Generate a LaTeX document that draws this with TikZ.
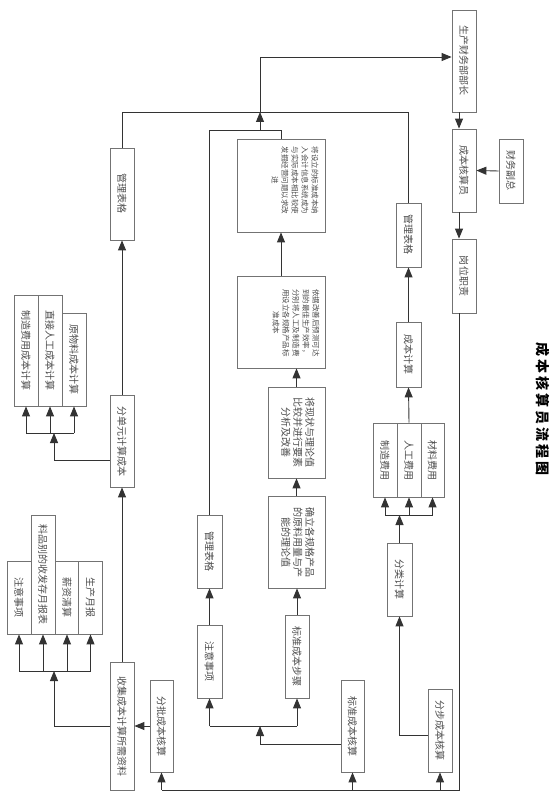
\documentclass[tikz,border=0pt]{standalone}
\usepackage{fontspec}
\usepackage{graphicx}
\setmainfont{Noto Sans CJK SC}
\usetikzlibrary{arrows.meta,calc}
\newcommand{\rt}[1]{\rotatebox{-90}{#1}}
\newcommand{\rtl}[1]{\rotatebox{-90}{\begin{tabular}{@{}c@{}}#1\end{tabular}}}
\tikzset{
  box/.style={draw=black!55, line width=0.8pt, inner sep=0pt, fill=white, text=black!70, font=\fontsize{10}{12}\selectfont},
  txt/.style={inner sep=0pt, text=black!70},
  ln/.style={draw=black!80, line width=0.9pt},
  arr/.style={draw=black!80, line width=0.9pt, -{Triangle[width=8pt,length=10pt]}}
}
\begin{document}
\begin{tikzpicture}[x=1pt,y=-1pt]
\useasboundingbox (0,0) rectangle (558,799);
\fill[white] (0,0) rectangle (558,799);

% title
\node[txt, text=black, font=\bfseries\fontsize{14}{14}\selectfont, rotate=-90] (title) at (543,409)
  {成\hspace{3pt}本\hspace{3pt}核\hspace{3pt}算\hspace{3pt}员\hspace{3pt}流\hspace{3pt}程\hspace{3pt}图};

% right column
\node[box, minimum width=24pt, minimum height=102pt] (p1) at (464,61) {\rt{生产财务部部长}};
\node[box, minimum width=24pt, minimum height=83pt] (p2) at (464,170.5) {\rt{成本核算员}};
\node[box, minimum width=24pt, minimum height=64pt] (p3) at (511,171) {\rt{财务副总}};
\node[box, minimum width=24pt, minimum height=74pt] (p4) at (464,276) {\rt{岗位职责}};

\node[box, minimum width=25pt, minimum height=64pt] (rm) at (408.5,235) {\rt{管理表格}};
\node[box, minimum width=25pt, minimum height=65pt] (rc) at (408.5,354.5) {\rt{成本计算}};
\node[box, minimum width=24pt, minimum height=74pt] (zz) at (385,460) {\rt{制造费用}};
\node[box, minimum width=24pt, minimum height=74pt] (rg) at (409,460) {\rt{人工费用}};
\node[box, minimum width=23pt, minimum height=74pt] (cl) at (432.5,460) {\rt{材料费用}};
\node[box, minimum width=25pt, minimum height=73pt] (fl) at (399.5,579.5) {\rt{分类计算}};
\node[box, minimum width=24pt, minimum height=83pt] (fb) at (440,730.5) {\rt{分步成本核算}};

% middle column
\node[box, minimum width=23pt, minimum height=92pt] (sc) at (352.5,726) {\rt{标准成本核算}};
\node[box, minimum width=24pt, minimum height=83pt] (ss) at (297,656.5) {\rt{标准成本步骤}};
\node[box, minimum width=25pt, minimum height=73pt] (mn) at (209.5,661.5) {\rt{注意事项}};
\node[box, minimum width=25pt, minimum height=73pt] (mm) at (209.5,551.5) {\rt{管理表格}};
\node[box, minimum width=57pt, minimum height=92pt] (b4) at (296.5,542)
  {\rtl{确立各规格产品\\的原料用量与产\\能的理论值}};
\node[box, minimum width=57pt, minimum height=91pt] (b3) at (296.5,432.5)
  {\rtl{将现状与理论值\\比较并进行要素\\分析及改善}};
\node[box, minimum width=88pt, minimum height=92pt] (b2) at (281,322) {};
\node[txt, font=\fontsize{7.5}{10}\selectfont] (t2) at ($(b2.center)+(14,1)$)
  {\rtl{依据改善后预测可达\\到的最佳生产效率，\\分别将人工及制造费\\用设立各规格产品标\\准成本}};
\node[box, minimum width=88pt, minimum height=93pt] (b1) at (281,185.5) {};
\node[txt, font=\fontsize{7.5}{10}\selectfont] (t1) at ($(b1.center)+(13,-5)$)
  {\rtl{将设立的标准成本纳\\入会计信息系统成为\\与实际成本相比较使\\发掘经营问题以求改\\进}};

% left column
\node[box, minimum width=23pt, minimum height=92pt] (fp) at (161.5,726) {\rt{分批成本核算}};
\node[box, minimum width=24pt, minimum height=128pt] (sj) at (122,726) {\rt{收集成本计算所需资料}};
\node[box, minimum width=24pt, minimum height=92pt] (du) at (122,441) {\rt{分单元计算成本}};
\node[box, minimum width=24pt, minimum height=92pt] (lm) at (122,194) {\rt{管理表格}};
\node[box, minimum width=24pt, minimum height=73pt] (a1) at (19,597.5) {\rt{注意事项}};
\node[box, minimum width=24pt, minimum height=119pt] (a2) at (43,574.5) {\rt{料品别的收发存月报表}};
\node[box, minimum width=24pt, minimum height=73pt] (a3) at (67,597.5) {\rt{薪资清算}};
\node[box, minimum width=24pt, minimum height=73pt] (a4) at (90.5,597.5) {\rt{生产月报}};
\node[box, minimum width=24pt, minimum height=111pt] (c1) at (26,350.5) {\rt{制造费用成本计算}};
\node[box, minimum width=24pt, minimum height=111pt] (c2) at (50,350.5) {\rt{直接人工成本计算}};
\node[box, minimum width=24pt, minimum height=93pt] (c3) at (74,359.5) {\rt{原物料成本计算}};

% junction coordinates
\coordinate (bR) at (459,790);
\coordinate (top) at (260,112);
\coordinate (mj) at (260,130);
\coordinate (mj2) at (260,726);
\coordinate (j1) at (396,515);
\coordinate (lj1) at (54,671);
\coordinate (lj2) at (54,433);

% right column connectors
\draw[arr] ([xshift=-5pt]p1.south) -- ([xshift=-5pt]p2.north);
\draw[arr] ([xshift=-5pt]p2.south) -- ([xshift=-5pt]p4.north);
\draw[arr] (p3.west) -- (p2.east);
\draw[ln] ([xshift=-5pt]p4.south) -- (bR) -- (fp.south |- bR);
\draw[arr] (fp.south |- bR) -- (fp.south);
\draw[arr] (sc.south |- bR) -- (sc.south);
\draw[arr] (fb.south |- bR) -- (fb.south);
\draw[arr] ([yshift=-4.5pt]fb.west) -| (fl.south);
\draw[arr] (fl.north) -- (fl.north |- j1);
\draw[ln] (zz.south |- j1) -- (cl.south |- j1);
\draw[arr] (zz.south |- j1) -- (zz.south);
\draw[arr] (rg.south |- j1) -- (rg.south);
\draw[arr] (cl.south |- j1) -- (cl.south);
\draw[arr] (rg.north) -- (rc.south);
\draw[arr] (rc.north) -- (rm.south);
\draw[ln] (rm.north) |- (lm.north |- top) -- (lm.north);
\draw[arr] (top) |- ([yshift=4pt]p1.west);

% middle connectors
\draw[ln] (b1.north) |- (mm.north |- mj) -- (mm.north);
\draw[arr] (mj) -- (top);
\draw[arr] (b2.north) -- (b1.south);
\draw[arr] (b3.north) -- (b3.north |- b2.south);
\draw[arr] (b4.north) -- (b3.south);
\draw[arr] (ss.north) -- (ss.north |- b4.south);
\draw[arr] (mn.north) -- (mm.south);
\draw[arr] ([yshift=-18pt]sc.west) -| (mj2);
\draw[ln] (mn.south |- mj2) -- (ss.south |- mj2);
\draw[arr] (mn.south |- mj2) -- (mn.south);
\draw[arr] (ss.south |- mj2) -- (ss.south);

% left connectors
\draw[arr] (fp.west) -- (sj.east);
\draw[arr] (sj.west) -| (lj1);
\draw[ln] (a1.south |- lj1) -- (a4.south |- lj1);
\draw[arr] (a1.south |- lj1) -- (a1.south);
\draw[arr] (a2.south |- lj1) -- (a2.south);
\draw[arr] (a3.south |- lj1) -- (a3.south);
\draw[arr] (a4.south |- lj1) -- (a4.south);
\draw[arr] (sj.north) -- (du.south);
\draw[arr] ([yshift=-19pt]du.west) -| (lj2);
\draw[ln] (c1.south |- lj2) -- (c3.south |- lj2);
\draw[arr] (c1.south |- lj2) -- (c1.south);
\draw[arr] (c2.south |- lj2) -- (c2.south);
\draw[arr] (c3.south |- lj2) -- (c3.south);
\draw[arr] (du.north) -- (lm.south);
\end{tikzpicture}
\end{document}
